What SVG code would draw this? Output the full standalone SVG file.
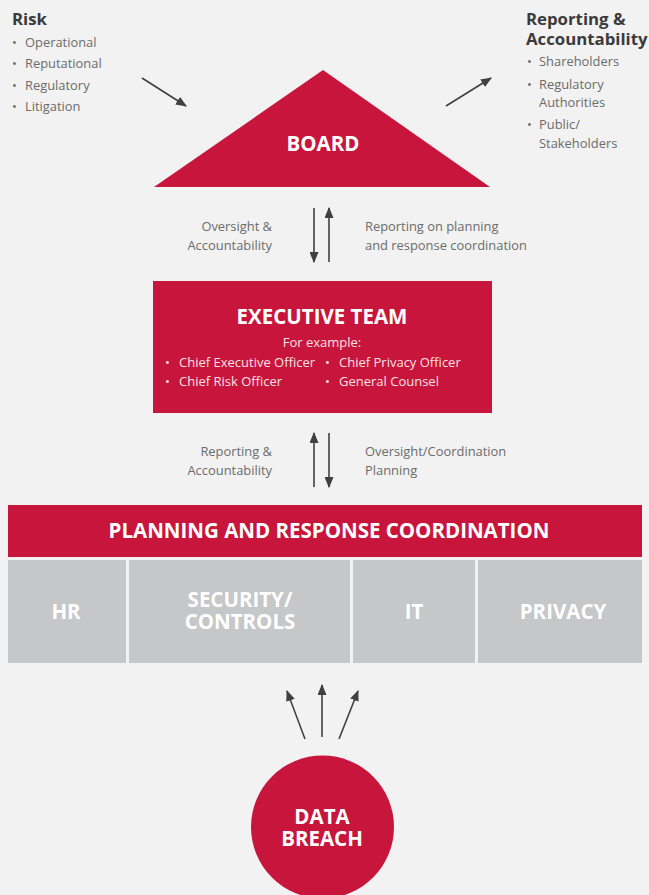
<svg xmlns="http://www.w3.org/2000/svg" width="649" height="895" viewBox="0 0 649 895">
<style>
.bg{fill:#f2f2f2}
.red{fill:#c8153b}
.gray{fill:#c6c7c9}
.h{font-family:"Open Sans","Liberation Sans",sans-serif;font-weight:700;fill:#3a3a3a;font-size:16.8px}
.t{font-family:"Open Sans","Liberation Sans",sans-serif;fill:#6b6b6b;font-size:12.9px}
.wb{font-family:"Open Sans","Liberation Sans",sans-serif;font-weight:700;fill:#fff;text-anchor:middle;font-size:20.5px}
.w{font-family:"Open Sans","Liberation Sans",sans-serif;fill:#f7e3e7;font-size:13px}
.ln{stroke:#404040;stroke-width:1.6;fill:none}
</style>
<defs>
<marker id="ahs" viewBox="0 0 10 10" refX="9" refY="5" markerWidth="11" markerHeight="9" orient="auto" markerUnits="userSpaceOnUse" preserveAspectRatio="none">
<path d="M0,0 L10,5 L0,10 z" fill="#404040"/>
</marker>
</defs>
<rect class="bg" x="0" y="0" width="649" height="895"/>

<g id="risk">
<text class="h" x="12" y="25">Risk</text>
<text class="t" x="12" y="47">•</text><text class="t" x="25" y="47">Operational</text>
<text class="t" x="12" y="68">•</text><text class="t" x="25" y="68">Reputational</text>
<text class="t" x="12" y="90">•</text><text class="t" x="25" y="90">Regulatory</text>
<text class="t" x="12" y="111">•</text><text class="t" x="25" y="111">Litigation</text>
</g>

<g id="reporting">
<text class="h" x="526" y="25">Reporting &amp;</text>
<text class="h" x="526" y="45">Accountability</text>
<text class="t" x="527" y="66">•</text><text class="t" x="539" y="66">Shareholders</text>
<text class="t" x="527" y="89">•</text><text class="t" x="539" y="89">Regulatory</text>
<text class="t" x="539" y="107">Authorities</text>
<text class="t" x="527" y="129">•</text><text class="t" x="539" y="129">Public/</text>
<text class="t" x="539" y="148">Stakeholders</text>
</g>

<g id="board">
<polygon class="red" points="323,70 154,187 490,187"/>
<text class="wb" x="323" y="151">BOARD</text>
</g>

<g id="executive">
<rect class="red" x="153" y="281" width="339" height="132"/>
<text class="wb" x="322" y="324">EXECUTIVE TEAM</text>
<text class="w" x="322" y="347" text-anchor="middle">For example:</text>
<text class="w" x="165" y="367">•</text><text class="w" x="179" y="367">Chief Executive Officer</text>
<text class="w" x="325" y="367">•</text><text class="w" x="339" y="367">Chief Privacy Officer</text>
<text class="w" x="165" y="386">•</text><text class="w" x="179" y="386">Chief Risk Officer</text>
<text class="w" x="325" y="386">•</text><text class="w" x="339" y="386">General Counsel</text>
</g>

<g id="planning">
<rect class="red" x="8" y="505" width="634" height="52"/>
<text class="wb" x="329" y="538" font-size="21">PLANNING AND RESPONSE COORDINATION</text>
</g>

<g id="hr">
<rect class="gray" x="8" y="560" width="118" height="103"/>
<text class="wb" x="66" y="619">HR</text>
</g>
<g id="security">
<rect class="gray" x="129" y="560" width="221" height="103"/>
<text class="wb" x="240" y="607">SECURITY/</text>
<text class="wb" x="240" y="629">CONTROLS</text>
</g>
<g id="it">
<rect class="gray" x="353" y="560" width="122" height="103"/>
<text class="wb" x="414" y="619">IT</text>
</g>
<g id="privacy">
<rect class="gray" x="478" y="560" width="164" height="103"/>
<text class="wb" x="563" y="619">PRIVACY</text>
</g>

<g id="databreach">
<circle class="red" cx="322.5" cy="827" r="71.5"/>
<text class="wb" x="322" y="824">DATA</text>
<text class="wb" x="322" y="846">BREACH</text>
</g>

<g id="labels">
<text class="t" x="272" y="231" text-anchor="end">Oversight &amp;</text>
<text class="t" x="272" y="250" text-anchor="end">Accountability</text>
<text class="t" x="365" y="231">Reporting on planning</text>
<text class="t" x="365" y="250">and response coordination</text>
<text class="t" x="272" y="456" text-anchor="end">Reporting &amp;</text>
<text class="t" x="272" y="475" text-anchor="end">Accountability</text>
<text class="t" x="365" y="456">Oversight/Coordination</text>
<text class="t" x="365" y="475">Planning</text>
</g>

<g id="connectors">
<line class="ln" x1="142" y1="78" x2="186" y2="106" marker-end="url(#ahs)"/>
<line class="ln" x1="446" y1="106" x2="491" y2="78" marker-end="url(#ahs)"/>
<line class="ln" x1="314" y1="208" x2="314" y2="262" marker-end="url(#ahs)"/>
<line class="ln" x1="329" y1="262" x2="329" y2="208" marker-end="url(#ahs)"/>
<line class="ln" x1="314" y1="487" x2="314" y2="433" marker-end="url(#ahs)"/>
<line class="ln" x1="329" y1="433" x2="329" y2="487" marker-end="url(#ahs)"/>
<line class="ln" x1="305" y1="739" x2="287" y2="691" marker-end="url(#ahs)"/>
<line class="ln" x1="322" y1="737" x2="322" y2="685" marker-end="url(#ahs)"/>
<line class="ln" x1="339" y1="739" x2="358" y2="691" marker-end="url(#ahs)"/>
</g>
</svg>
